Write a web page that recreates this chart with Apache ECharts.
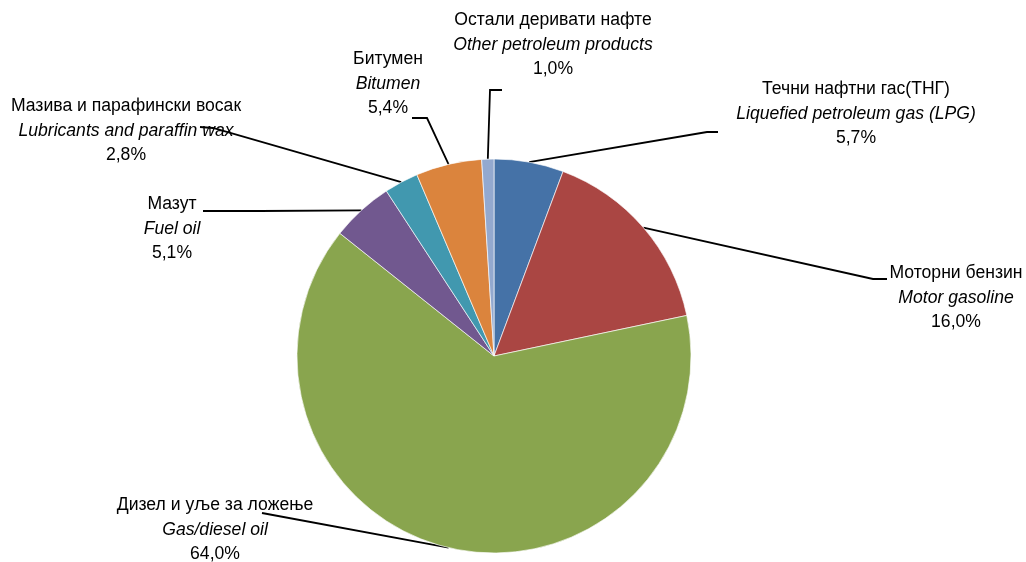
<!DOCTYPE html>
<html>
<head>
<meta charset="utf-8">
<script src="https://cdn.jsdelivr.net/npm/echarts@6/dist/echarts.min.js"></script>
<style>
html,body{margin:0;padding:0;background:#fff;}
#chart{width:1026px;height:562px;}
</style>
</head>
<body>
<div id="chart"></div>
<script>
// ---- data ----
var namesSr = ['Течни нафтни гас(ТНГ)', 'Моторни бензин', 'Дизел и уље за ложење', 'Мазут', 'Мазива и парафински восак', 'Битумен', 'Остали деривати нафте'];
var namesEn = ['Liquefied petroleum gas (LPG)', 'Motor gasoline', 'Gas/diesel oil', 'Fuel oil', 'Lubricants and paraffin wax', 'Bitumen', 'Other petroleum products'];
var shares = [5.7, 16.0, 64.0, 5.1, 2.8, 5.4, 1.0];

// ---- layout / style ----
var colors = ['#4572A7', '#AA4643', '#89A54E', '#71588F', '#4198AF', '#DB843D', '#93A9CF'];
var CX = 494, CY = 356, R = 197;
var FONT = "'Liberation Sans Narrow', 'Arial Narrow', 'Liberation Sans', Arial, sans-serif";
var FS = 17.6, LH = 24.5;
// label block centres and leader-line bend / end points
var labelLayouts = [
  {x: 856, y: 114, m: [707, 132], e: [718, 132]},
  {x: 956, y: 298, m: [873, 279], e: [887, 279]},
  {x: 215, y: 530, m: [262, 513], e: [262, 513]},
  {x: 172, y: 229, m: [260, 211], e: [203, 211]},
  {x: 126, y: 131, m: [213, 128], e: [200, 127]},
  {x: 388, y: 84,  m: [427, 118], e: [412, 118]},
  {x: 553, y: 45,  m: [490, 90],  e: [502, 90]}
];

function fmtPct(v) { return v.toFixed(1).replace('.', ',') + '%'; }

var total = shares.reduce(function (a, b) { return a + b; }, 0);
function edgePoint(i) {
  var cum = 0;
  for (var k = 0; k < i; k++) cum += shares[k];
  var mid = 90 - (cum + shares[i] / 2) / total * 360;
  var a = mid * Math.PI / 180;
  return [CX + R * Math.cos(a), CY - R * Math.sin(a)];
}

var pieData = shares.map(function (v, i) {
  return { value: v, name: namesEn[i], itemStyle: { color: colors[i] } };
});

var chart = echarts.init(document.getElementById('chart'), null, { renderer: 'canvas' });
chart.setOption({
  backgroundColor: '#ffffff',
  animation: false,
  series: [{
    type: 'pie',
    center: [CX, CY],
    radius: R,
    startAngle: 90,
    clockwise: true,
    avoidLabelOverlap: false,
    data: pieData,
    itemStyle: { borderColor: 'rgba(255,255,255,0.8)', borderWidth: 0.8 },
    emphasis: { disabled: true },
    label: {
      show: true,
      position: 'outside',
      color: '#000',
      fontFamily: FONT,
      formatter: function (p) {
        var i = p.dataIndex;
        return '{a|' + namesSr[i] + '}\n{b|' + namesEn[i] + '}\n{a|' + fmtPct(shares[i]) + '}';
      },
      rich: {
        a: { fontFamily: FONT, fontSize: FS, lineHeight: LH, color: '#000', align: 'center' },
        b: { fontFamily: FONT, fontSize: FS, lineHeight: LH, color: '#000', fontStyle: 'italic', align: 'center' }
      }
    },
    labelLine: {
      show: true,
      length: 10,
      length2: 10,
      lineStyle: { color: '#000', width: 1.8 }
    },
    labelLayout: function (p) {
      var L = labelLayouts[p.dataIndex];
      var s = edgePoint(p.dataIndex);
      return {
        x: L.x, y: L.y,
        align: 'center', verticalAlign: 'middle',
        labelLinePoints: [s, L.m, L.e]
      };
    }
  }]
});
</script>
</body>
</html>
